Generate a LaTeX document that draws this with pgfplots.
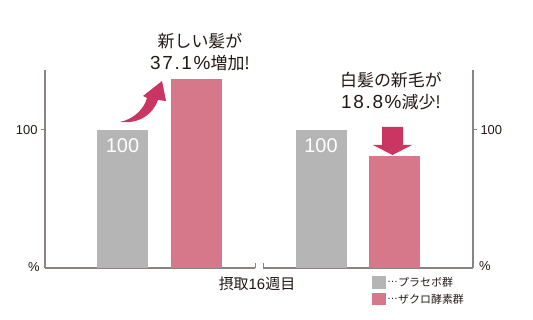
\documentclass[border=0pt]{standalone}
\usepackage{pgfplots}
\pgfplotsset{compat=1.18}
\usepackage{fontspec}
\setmainfont{Noto Sans CJK JP}
\newfontfamily\latinfont{Liberation Sans}
\newfontfamily\digitfont[LetterSpace=9]{Liberation Sans}
\definecolor{bargray}{HTML}{B4B5B4}
\definecolor{barpink}{HTML}{D6788A}
\definecolor{arrowc}{HTML}{CA3562}
\definecolor{txt}{HTML}{231815}
\definecolor{axc}{HTML}{8A8381}
\newcommand{\mdots}{\raisebox{0.32em}{\latinfont …}}
\begin{document}
\begin{tikzpicture}
\useasboundingbox (0,0) rectangle (533bp,320bp);
\pgfplotsset{
  common/.style={
    scale only axis, width=210bp, height=198bp,
    anchor=south west,
    ymin=0, ymax=143.48,
    xtick=\empty, ytick={100},
    tick align=outside, major tick length=4bp,
    axis line style={-, draw=axc, line width=1.6bp},
    y tick style={draw=axc, line width=1bp},
    /pgf/number format/assume math mode=true,
    tick label style={font=\latinfont\fontsize{13}{15}\selectfont, text=txt},
    ybar, bar width=51, bar shift=0pt,
    clip=false,
  }
}
\begin{axis}[common, at={(45bp,52bp)}, xmin=45, xmax=255,
  axis x line*=bottom, axis y line*=left]
\addplot[fill=bargray, draw=none] coordinates {(122.5,100)};
\addplot[fill=barpink, draw=none] coordinates {(196,137.1)};
\end{axis}
\begin{axis}[common, at={(263bp,52bp)}, xmin=263, xmax=473,
  axis x line*=bottom, axis y line*=right,
  legend style={draw=none, fill=none, at={(0.505,-0.03)}, anchor=north west,
    font=\fontsize{11}{13}\selectfont, text=txt, row sep=4bp,
    nodes={inner sep=1bp}},
  legend image code/.code={\fill[#1] (0bp,-6bp) rectangle (14bp,6.5bp);},
  legend cell align=left]
\addplot[fill=bargray, draw=none] coordinates {(321,100)};
\addlegendentry{\mdots プラセボ群}
\addplot[fill=barpink, draw=none] coordinates {(394.5,81.2)};
\addlegendentry{\mdots ザクロ酵素群}
\end{axis}
\begin{scope}[x=1bp, y=-1bp, shift={(0bp,320bp)}]
  % axis break ticks
  \draw[axc, line width=1bp] (255.5,268) -- (255.5,263.5);
  \draw[axc, line width=1bp] (263.5,268) -- (263.5,263.5);
  % percent labels
  \node[text=txt, font=\latinfont\fontsize{13}{15}\selectfont] at (34,267) {\%};
  \node[text=txt, font=\latinfont\fontsize{13}{15}\selectfont] at (485,266) {\%};
  % x label
  \node[text=txt, font=\fontsize{15}{17}\selectfont] at (257,284) {摂取{\latinfont 16}週目};
  % bar labels
  \node[text=white, font=\latinfont\fontsize{20}{22}\selectfont] at (122.5,146) {100};
  \node[text=white, font=\latinfont\fontsize{20}{22}\selectfont] at (321,146) {100};
  % annotations
  \node[text=txt, font=\fontsize{17}{23}\selectfont, align=center] at (200,52) {新しい髪が\\{\digitfont\fontsize{19}{23}\selectfont 37.1\%}増加!};
  \node[text=txt, font=\fontsize{17}{23}\selectfont, align=center] at (391,91) {白髪の新毛が\\{\digitfont\fontsize{19}{23}\selectfont 18.8\%}減少!};
  % curved arrow
  \fill[arrowc] (120,122) .. controls (134,119) and (144,109) .. (147,98)
     -- (143,96) -- (162,81) -- (166,101) -- (158,100)
     .. controls (153,114) and (140,124) .. (120,122) -- cycle;
  % down arrow
  \fill[arrowc] (382,127) -- (403,127) -- (403,145) -- (412,145) -- (392.5,155)
     -- (373,145) -- (382,145) -- cycle;
\end{scope}
\end{tikzpicture}
\end{document}
